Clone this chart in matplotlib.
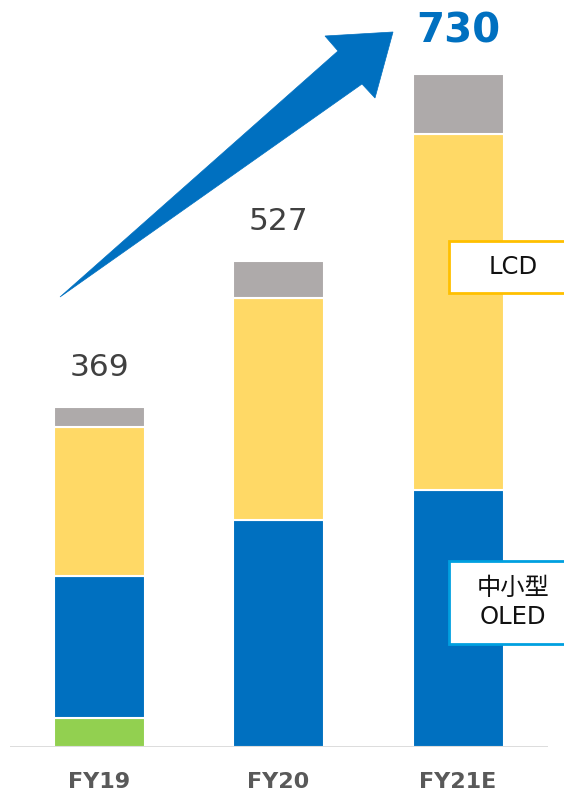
import matplotlib
matplotlib.use("Agg")
import matplotlib.pyplot as plt
from matplotlib.patches import Polygon, Rectangle

# data
years = ["FY19", "FY20", "FY21E"]
other_oled = [31, 0, 0]
oled = [154, 246, 279]
lcd = [162, 241, 386]
other = [22, 40, 65]
totals = [369, 527, 730]

BLUE = "#0070C0"
YELLOW = "#FFD966"
GRAY = "#AEAAAA"
GREEN = "#92D050"

W, H = 564, 793
fig = plt.figure(figsize=(W / 100, H / 100), dpi=100)
plt.rcParams["font.family"] = ["DejaVu Sans", "Noto Sans CJK JP"]


def fx(px):
    return px / W


def fy(py):
    return 1 - py / H


ax = fig.add_axes([fx(10), 46 / H, 538 / W, 747 / H])
x = list(range(len(years)))
bw = 0.507

bottom = [0] * 3
for vals, col in [(other_oled, GREEN), (oled, BLUE), (lcd, YELLOW), (other, GRAY)]:
    ax.bar(x, vals, bw, bottom=bottom, color=col, edgecolor="white", linewidth=1.5, zorder=2)
    bottom = [b + v for b, v in zip(bottom, vals)]

ax.set_xlim(-0.496, 2.501)
ax.set_ylim(0, 810)
ax.axhline(0, color="#D9D9D9", linewidth=2, zorder=3)
for s in ax.spines.values():
    s.set_visible(False)
ax.set_yticks([])
ax.set_xticks(x)
ax.set_xticklabels(years, fontsize=16, fontweight="bold", color="#595959")
ax.tick_params(axis="x", length=0, pad=18)

# total labels
for i in range(2):
    ax.text(x[i], totals[i] + 27, str(totals[i]), ha="center", va="bottom",
            fontsize=22.5, color="#404040")
ax.text(x[2], totals[2] + 24, str(totals[2]), ha="center", va="bottom",
        fontsize=29, fontweight="bold", color=BLUE)

# growth arrow
pts = [(60, 297), (338, 51), (325, 36), (393, 32), (375, 98), (362, 84)]
fig.patches.append(Polygon([(fx(a), fy(b)) for a, b in pts], closed=True,
                           transform=fig.transFigure, facecolor=BLUE,
                           edgecolor=BLUE, linewidth=0.5))

# callout boxes
def callout(x0, y0, x1, y1, edge, text):
    fig.patches.append(Rectangle((fx(x0), fy(y1)), fx(x1) - fx(x0), fy(y0) - fy(y1),
                                 transform=fig.transFigure, facecolor="white",
                                 edgecolor=edge, linewidth=2, zorder=5))
    fig.text(fx((x0 + 577) / 2), fy((y0 + y1) / 2), text, ha="center", va="center",
             fontsize=17.5, color="#111111", linespacing=1.3, zorder=6)


callout(449, 241, 570, 293, "#FFC000", "LCD")
callout(449, 561, 570, 644, "#00A0E0", "中小型\nOLED")

fig.savefig("out.png", dpi=100)
